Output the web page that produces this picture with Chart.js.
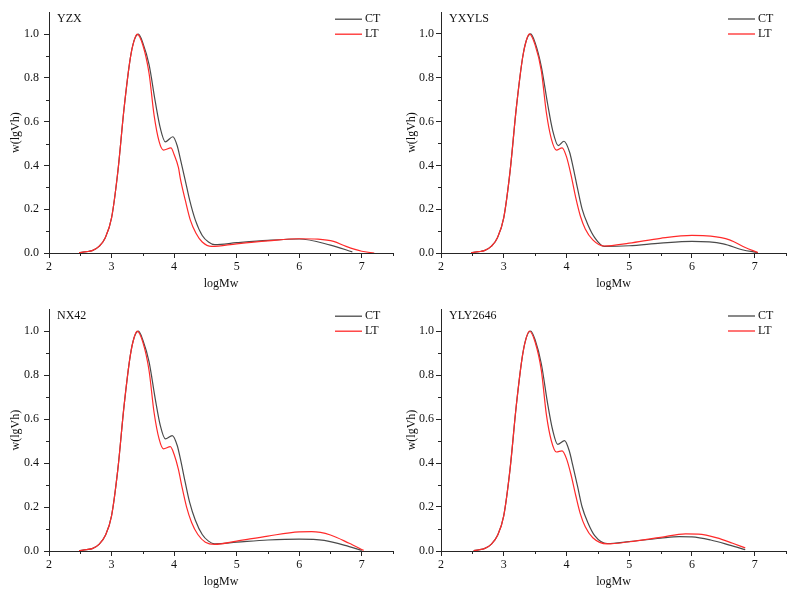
<!DOCTYPE html>
<html>
<head>
<meta charset="utf-8">
<script src="https://cdn.jsdelivr.net/npm/chart.js@4.4.0/dist/chart.umd.min.js"></script>
<style>
  body { margin: 0; background: #fff; }
  #wrap { position: relative; width: 794px; height: 595px; }
  canvas { position: absolute; }
</style>
</head>
<body>
<div id="wrap">
  <canvas id="c1" width="397" height="297" style="left:0;top:0"></canvas>
  <canvas id="c2" width="397" height="297" style="left:397px;top:0"></canvas>
  <canvas id="c3" width="397" height="298" style="left:0;top:297px"></canvas>
  <canvas id="c4" width="397" height="298" style="left:397px;top:297px"></canvas>
</div>
<script>
// axis ticks
const xMinor = [2.5, 3.5, 4.5, 5.5, 6.5, 7.5];
const yMinor = [0.1, 0.3, 0.5, 0.7, 0.9];

// YZX
const yzxCtX = [2.48, 2.6, 2.7, 2.8, 2.9, 3.0, 3.1, 3.2, 3.3, 3.36, 3.43, 3.5, 3.6, 3.7, 3.78, 3.86, 3.98, 4.05, 4.1, 4.18, 4.25, 4.34, 4.45, 4.55, 4.65, 5.0, 5.5, 6.0, 6.5, 6.85];
const yzxCtY = [0.002, 0.006, 0.012, 0.03, 0.07, 0.16, 0.37, 0.66, 0.89, 0.97, 1.0, 0.96, 0.86, 0.69, 0.57, 0.508, 0.531, 0.49, 0.43, 0.33, 0.24, 0.15, 0.08, 0.05, 0.038, 0.047, 0.058, 0.064, 0.036, 0.005];
const yzxLtX = [2.48, 2.6, 2.7, 2.8, 2.9, 3.0, 3.1, 3.2, 3.3, 3.36, 3.41, 3.5, 3.6, 3.68, 3.76, 3.83, 3.95, 4.0, 4.07, 4.1, 4.18, 4.26, 4.35, 4.45, 4.6, 5.0, 5.5, 6.0, 6.3, 6.55, 6.75, 7.0, 7.2];
const yzxLtY = [0.002, 0.006, 0.012, 0.03, 0.07, 0.16, 0.37, 0.66, 0.89, 0.97, 1.0, 0.95, 0.82, 0.63, 0.51, 0.47, 0.48, 0.45, 0.39, 0.34, 0.24, 0.15, 0.09, 0.05, 0.03, 0.042, 0.055, 0.065, 0.063, 0.053, 0.03, 0.008, 0.0];

// YXYLS
const yxyCtX = [2.48, 2.6, 2.7, 2.8, 2.9, 3.0, 3.1, 3.2, 3.3, 3.36, 3.43, 3.5, 3.6, 3.7, 3.78, 3.87, 3.96, 4.05, 4.1, 4.18, 4.25, 4.34, 4.45, 4.6, 5.0, 5.5, 6.0, 6.5, 6.8, 7.05];
const yxyCtY = [0.002, 0.006, 0.012, 0.03, 0.07, 0.16, 0.37, 0.66, 0.89, 0.97, 1.0, 0.96, 0.85, 0.68, 0.56, 0.49, 0.51, 0.46, 0.4, 0.29, 0.2, 0.13, 0.07, 0.03, 0.033, 0.045, 0.053, 0.042, 0.015, 0.002];
const yxyLtX = [2.48, 2.6, 2.7, 2.8, 2.9, 3.0, 3.1, 3.2, 3.3, 3.36, 3.41, 3.5, 3.6, 3.68, 3.76, 3.84, 3.93, 4.0, 4.07, 4.15, 4.22, 4.3, 4.42, 4.6, 5.0, 5.5, 6.0, 6.3, 6.6, 6.85, 7.05];
const yxyLtY = [0.002, 0.006, 0.012, 0.03, 0.07, 0.16, 0.37, 0.66, 0.89, 0.97, 1.0, 0.95, 0.83, 0.64, 0.52, 0.47, 0.48, 0.44, 0.36, 0.25, 0.17, 0.11, 0.06, 0.032, 0.045, 0.067, 0.08, 0.077, 0.06, 0.025, 0.002];

// NX42
const nxCtX = [2.48, 2.6, 2.7, 2.8, 2.9, 3.0, 3.1, 3.2, 3.3, 3.36, 3.43, 3.5, 3.6, 3.7, 3.78, 3.86, 3.97, 4.05, 4.1, 4.18, 4.25, 4.34, 4.45, 4.55, 4.65, 5.0, 5.5, 6.0, 6.4, 6.8, 7.0];
const nxCtY = [0.002, 0.006, 0.012, 0.03, 0.07, 0.16, 0.37, 0.66, 0.89, 0.97, 1.0, 0.96, 0.86, 0.69, 0.57, 0.51, 0.525, 0.48, 0.42, 0.31, 0.22, 0.14, 0.075, 0.045, 0.033, 0.04, 0.05, 0.054, 0.048, 0.02, 0.003];
const nxLtX = [2.48, 2.6, 2.7, 2.8, 2.9, 3.0, 3.1, 3.2, 3.3, 3.36, 3.41, 3.5, 3.6, 3.68, 3.76, 3.83, 3.94, 4.0, 4.07, 4.12, 4.2, 4.28, 4.38, 4.5, 4.65, 5.0, 5.5, 6.0, 6.2, 6.5, 6.8, 7.03];
const nxLtY = [0.002, 0.006, 0.012, 0.03, 0.07, 0.16, 0.37, 0.66, 0.89, 0.97, 1.0, 0.95, 0.82, 0.63, 0.51, 0.465, 0.475, 0.44, 0.37, 0.3, 0.2, 0.13, 0.075, 0.04, 0.03, 0.045, 0.068, 0.087, 0.088, 0.073, 0.035, 0.003];

// YLY2646
const ylyCtX = [2.52, 2.6, 2.7, 2.8, 2.9, 3.0, 3.1, 3.2, 3.3, 3.36, 3.43, 3.5, 3.6, 3.7, 3.78, 3.86, 3.97, 4.05, 4.1, 4.18, 4.25, 4.34, 4.45, 4.65, 5.0, 5.5, 5.8, 6.0, 6.3, 6.6, 6.85];
const ylyCtY = [0.002, 0.005, 0.012, 0.03, 0.07, 0.16, 0.37, 0.66, 0.89, 0.97, 1.0, 0.96, 0.85, 0.67, 0.55, 0.485, 0.502, 0.45, 0.39, 0.29, 0.2, 0.13, 0.07, 0.034, 0.043, 0.058, 0.065, 0.064, 0.05, 0.027, 0.006];
const ylyLtX = [2.52, 2.6, 2.7, 2.8, 2.9, 3.0, 3.1, 3.2, 3.3, 3.36, 3.41, 3.5, 3.6, 3.68, 3.76, 3.84, 3.93, 4.0, 4.07, 4.15, 4.22, 4.3, 4.42, 4.65, 5.0, 5.5, 5.9, 6.1, 6.4, 6.65, 6.85];
const ylyLtY = [0.002, 0.005, 0.012, 0.03, 0.07, 0.16, 0.37, 0.66, 0.89, 0.97, 1.0, 0.95, 0.82, 0.62, 0.5, 0.45, 0.455, 0.42, 0.35, 0.25, 0.17, 0.11, 0.06, 0.032, 0.042, 0.062, 0.078, 0.077, 0.06, 0.035, 0.014];

const serif = 'Liberation Serif';
const axisColor = '#262626';
const ctColor = '#4a4a4a';
const ltColor = '#ff2a2a';

function toPoints(xs, ys) {
    return xs.map((x, i) => ({ x: x, y: ys[i] }));
}

// minor ticks, panel name and legend drawn on top of the chart
const decorPlugin = {
    id: 'decor',
    afterDraw(chart, args, opts) {
        const { ctx, chartArea, scales } = chart;
        const x = scales.x, y = scales.y;
        ctx.save();
        ctx.strokeStyle = axisColor;
        ctx.lineWidth = 1;
        ctx.beginPath();
        xMinor.forEach(v => {
            const px = Math.round(x.getPixelForValue(v)) + 0.5;
            ctx.moveTo(px, x.top);
            ctx.lineTo(px, x.top + 3);
        });
        yMinor.forEach(v => {
            const py = Math.round(y.getPixelForValue(v)) + 0.5;
            ctx.moveTo(y.right, py);
            ctx.lineTo(y.right - 3, py);
        });
        ctx.stroke();

        ctx.fillStyle = '#111';
        ctx.font = '12px "' + serif + '"';
        ctx.textBaseline = 'middle';
        ctx.textAlign = 'left';
        ctx.fillText(opts.name, chartArea.left + 8, chartArea.top + 7);

        chart.data.datasets.forEach((ds, i) => {
            const ly = chartArea.top + 7 + i * 15;
            ctx.strokeStyle = ds.borderColor;
            ctx.lineWidth = 1.3;
            ctx.beginPath();
            ctx.moveTo(chartArea.right - 58, ly);
            ctx.lineTo(chartArea.right - 31, ly);
            ctx.stroke();
            ctx.fillStyle = '#111';
            ctx.fillText(ds.label, chartArea.right - 28, ly);
        });
        ctx.restore();
    }
};

function makePanel(canvasId, name, ctX, ctY, ltX, ltY, axisW, padRight, labelPad, titlePad) {
    const ctx = document.getElementById(canvasId).getContext('2d');
    return new Chart(ctx, {
        type: 'line',
        data: {
            datasets: [{
                label: 'CT',
                data: toPoints(ctX, ctY),
                borderColor: ctColor,
                borderWidth: 1.2,
                pointRadius: 0,
                cubicInterpolationMode: 'monotone',
                order: 1
            }, {
                label: 'LT',
                data: toPoints(ltX, ltY),
                borderColor: ltColor,
                borderWidth: 1.2,
                pointRadius: 0,
                cubicInterpolationMode: 'monotone',
                order: 0
            }]
        },
        options: {
            responsive: false,
            animation: false,
            devicePixelRatio: 1,
            layout: { padding: { top: 12, right: padRight, left: 0, bottom: 0 } },
            plugins: {
                legend: { display: false },
                tooltip: { enabled: false },
                decor: { name: name }
            },
            scales: {
                x: {
                    type: 'linear',
                    min: 2,
                    max: 7.5,
                    ticks: {
                        stepSize: 1,
                        includeBounds: false,
                        padding: 2,
                        color: '#111',
                        font: { family: serif, size: 12 }
                    },
                    grid: { drawOnChartArea: false, tickLength: 5, tickColor: axisColor, color: axisColor },
                    border: { color: axisColor, width: 1 },
                    title: {
                        display: true,
                        text: 'logMw',
                        color: '#111',
                        font: { family: serif, size: 12 },
                        padding: { top: 4, bottom: 6 }
                    },
                    afterFit: s => { s.height = 44; }
                },
                y: {
                    min: 0,
                    max: 1.1,
                    ticks: {
                        stepSize: 0.2,
                        includeBounds: false,
                        padding: labelPad,
                        color: '#111',
                        font: { family: serif, size: 12 },
                        callback: v => v.toFixed(1)
                    },
                    grid: { drawOnChartArea: false, tickLength: 5, tickColor: axisColor, color: axisColor },
                    border: { color: axisColor, width: 1 },
                    title: {
                        display: true,
                        text: 'w(lgVh)',
                        color: '#111',
                        font: { family: serif, size: 12 },
                        padding: { top: titlePad, bottom: 2 }
                    },
                    afterFit: s => { s.width = axisW; }
                }
            }
        },
        plugins: [decorPlugin]
    });
}

makePanel('c1', 'YZX', yzxCtX, yzxCtY, yzxLtX, yzxLtY, 49, 4, 5, 9);
makePanel('c2', 'YXYLS', yxyCtX, yxyCtY, yxyLtX, yxyLtY, 44, 8, 2, 8);
makePanel('c3', 'NX42', nxCtX, nxCtY, nxLtX, nxLtY, 49, 4, 5, 9);
makePanel('c4', 'YLY2646', ylyCtX, ylyCtY, ylyLtX, ylyLtY, 44, 8, 2, 8);
</script>
</body>
</html>
